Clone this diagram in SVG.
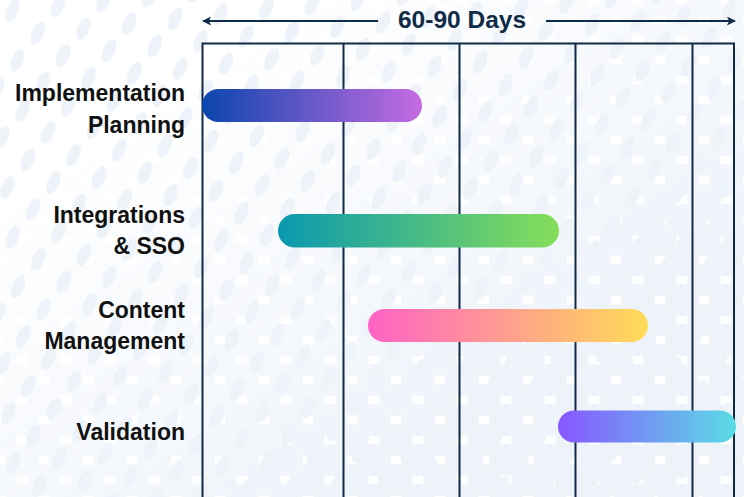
<svg xmlns="http://www.w3.org/2000/svg" width="744" height="497" viewBox="0 0 744 497">
  <style>
    .grid { stroke: #0f2b47; stroke-width: 2; fill: none; }
    .lbl { font-family: "Liberation Sans", Arial, sans-serif; font-weight: bold; font-size: 23px; fill: #111111; text-anchor: end; }
    .hdr { font-family: "Liberation Sans", Arial, sans-serif; font-weight: bold; font-size: 24.5px; fill: #0f2b47; text-anchor: middle; }
    .axis { stroke: #0f2b47; stroke-width: 2; fill: none; }
  </style>
  <defs>
    <pattern id="dotsA" width="46" height="50" patternUnits="userSpaceOnUse" patternTransform="rotate(-6)">
      <ellipse cx="11" cy="12" rx="6" ry="12" transform="rotate(30 11 12)" fill="#eef3fa"/>
      <ellipse cx="34" cy="37" rx="6" ry="12" transform="rotate(30 34 37)" fill="#eef3fa"/>
    </pattern>
    <pattern id="dotsB" width="44" height="40" patternUnits="userSpaceOnUse">
      <ellipse cx="0" cy="0" rx="17" ry="16" fill="#eef3fa"/>
      <ellipse cx="44" cy="0" rx="17" ry="16" fill="#eef3fa"/>
      <ellipse cx="22" cy="20" rx="17" ry="16" fill="#eef3fa"/>
      <ellipse cx="0" cy="40" rx="17" ry="16" fill="#eef3fa"/>
      <ellipse cx="44" cy="40" rx="17" ry="16" fill="#eef3fa"/>
    </pattern>
    <linearGradient id="fadeG" x1="0" y1="0" x2="1" y2="1">
      <stop offset="0.2" stop-color="#000"/>
      <stop offset="0.75" stop-color="#fff"/>
    </linearGradient>
    <mask id="fadeM">
      <rect x="0" y="0" width="744" height="497" fill="url(#fadeG)"/>
    </mask>
    <mask id="fadeInv">
      <rect x="0" y="0" width="744" height="497" fill="#fff"/>
      <rect x="0" y="0" width="744" height="497" fill="url(#fadeG)" opacity="0.7"/>
    </mask>
    <linearGradient id="g1" x1="0" y1="0" x2="1" y2="0">
      <stop offset="0" stop-color="#0a46ae"/>
      <stop offset="1" stop-color="#c66be2"/>
    </linearGradient>
    <linearGradient id="g2" x1="0" y1="0" x2="1" y2="0">
      <stop offset="0" stop-color="#0a98b0"/>
      <stop offset="1" stop-color="#86de59"/>
    </linearGradient>
    <linearGradient id="g3" x1="0" y1="0" x2="1" y2="0">
      <stop offset="0" stop-color="#ff62c6"/>
      <stop offset="1" stop-color="#ffdc56"/>
    </linearGradient>
    <linearGradient id="g4" x1="0" y1="0" x2="1" y2="0">
      <stop offset="0" stop-color="#8856ff"/>
      <stop offset="1" stop-color="#5adce5"/>
    </linearGradient>
    <marker id="arr" viewBox="0 0 10 10" refX="9" refY="5" markerWidth="4.5" markerHeight="4.5" orient="auto-start-reverse">
      <path d="M0,0 L10,5 L0,10 L2.5,5 Z" fill="#0f2b47"/>
    </marker>
  </defs>

  <g id="background">
    <rect x="0" y="0" width="744" height="497" fill="#ffffff"/>
    <rect x="0" y="0" width="744" height="497" fill="url(#dotsA)"/>
    <rect x="0" y="0" width="744" height="497" fill="url(#dotsB)" mask="url(#fadeM)"/>
  </g>

  <g id="header">
    <line class="axis" x1="203" y1="21" x2="378" y2="21" marker-start="url(#arr)"/>
    <line class="axis" x1="546" y1="21" x2="735" y2="21" marker-end="url(#arr)"/>
    <text class="hdr" x="462" y="27.5">60-90 Days</text>
  </g>

  <g id="grid">
    <polyline class="grid" points="202.5,497 202.5,43.5 734,43.5 734,497"/>
    <line class="grid" x1="343.5" y1="43.5" x2="343.5" y2="497"/>
    <line class="grid" x1="459.5" y1="43.5" x2="459.5" y2="497"/>
    <line class="grid" x1="575.5" y1="43.5" x2="575.5" y2="497"/>
    <line class="grid" x1="692.5" y1="43.5" x2="692.5" y2="497"/>
  </g>

  <g id="task-implementation-planning">
    <text class="lbl" x="185" y="101">Implementation</text>
    <text class="lbl" x="185" y="132.5">Planning</text>
    <rect x="202" y="89" width="220" height="33" rx="16.5" fill="url(#g1)"/>
  </g>

  <g id="task-integrations-sso">
    <text class="lbl" x="185" y="222.5">Integrations</text>
    <text class="lbl" x="185" y="254">&amp; SSO</text>
    <rect x="278" y="214" width="281" height="33.5" rx="16.7" fill="url(#g2)"/>
  </g>

  <g id="task-content-management">
    <text class="lbl" x="185" y="317.5">Content</text>
    <text class="lbl" x="185" y="348.5">Management</text>
    <rect x="368" y="309" width="280" height="33" rx="16.5" fill="url(#g3)"/>
  </g>

  <g id="task-validation">
    <text class="lbl" x="185" y="439.5">Validation</text>
    <rect x="558" y="410.5" width="178" height="32" rx="16" fill="url(#g4)"/>
  </g>
</svg>
